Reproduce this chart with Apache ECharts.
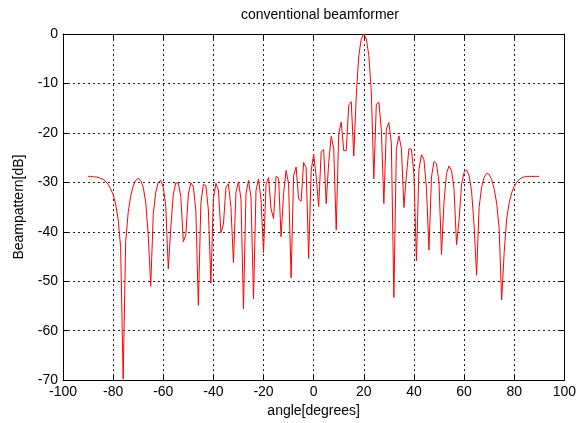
<!DOCTYPE html>
<html>
<head>
<meta charset="utf-8">
<title>conventional beamformer</title>
<script src="https://cdn.jsdelivr.net/npm/echarts@6/dist/echarts.min.js"></script>
<style>
  html, body { margin: 0; padding: 0; background: #fff; }
  #main { width: 579px; height: 423px; }
</style>
</head>
<body>
<div id="main"></div>
<script>
// angle samples in degrees
var angles = [
  -90, -89, -88, -87, -86, -85, -84, -83, -82, -81,
  -80, -79, -78, -77, -76, -75, -74, -73, -72, -71,
  -70, -69, -68, -67, -66, -65, -64, -63, -62, -61,
  -60, -59, -58, -57, -56, -55, -54, -53, -52, -51,
  -50, -49, -48, -47, -46, -45, -44, -43, -42, -41,
  -40, -39, -38, -37, -36, -35, -34, -33, -32, -31,
  -30, -29, -28, -27, -26, -25, -24, -23, -22, -21,
  -20, -19, -18, -17, -16, -15, -14, -13, -12, -11,
  -10, -9, -8, -7, -6, -5, -4, -3, -2, -1,
  0, 1, 2, 3, 4, 5, 6, 7, 8, 9,
  10, 11, 12, 13, 14, 15, 16, 17, 18, 19,
  20, 21, 22, 23, 24, 25, 26, 27, 28, 29,
  30, 31, 32, 33, 34, 35, 36, 37, 38, 39,
  40, 41, 42, 43, 44, 45, 46, 47, 48, 49,
  50, 51, 52, 53, 54, 55, 56, 57, 58, 59,
  60, 61, 62, 63, 64, 65, 66, 67, 68, 69,
  70, 71, 72, 73, 74, 75, 76, 77, 78, 79,
  80, 81, 82, 83, 84, 85, 86, 87, 88, 89,
  90
];

// beampattern in dB, one value per angle above
var beamDb = [
  -28.8, -28.8, -28.9, -28.9, -29.0, -29.2, -29.4, -29.8, -30.4, -31.3,
  -32.5, -34.4, -37.5, -43.2, -69.8, -42.0, -36.1, -32.8, -30.8, -29.6,
  -29.2, -29.6, -31.0, -34.0, -40.6, -51.0, -36.5, -32.0, -30.0, -29.6,
  -31.0, -34.8, -47.5, -39.2, -32.5, -30.1, -30.2, -32.9, -42.0, -40.7,
  -32.4, -30.1, -30.9, -35.7, -54.9, -34.2, -30.4, -30.7, -35.6, -50.4,
  -33.3, -30.2, -31.5, -40.2, -38.5, -31.0, -30.3, -35.1, -46.2, -32.0,
  -29.9, -33.4, -55.6, -32.3, -29.6, -33.0, -53.6, -31.7, -29.3, -33.5,
  -44.2, -30.4, -29.0, -35.4, -37.3, -28.8, -29.2, -41.0, -32.3, -27.6,
  -30.3, -49.3, -28.7, -26.9, -33.4, -33.8, -26.0, -27.0, -45.4, -27.7,
  -24.3, -28.8, -34.9, -23.8, -23.4, -34.3, -26.0, -20.7, -23.1, -39.6,
  -20.2, -17.8, -23.6, -23.6, -14.4, -13.7, -24.7, -12.3, -4.4, -1.0,
  0.0, -1.0, -4.3, -11.7, -29.3, -14.2, -13.8, -19.3, -34.3, -19.2,
  -17.9, -22.2, -53.3, -23.2, -20.6, -23.1, -35.1, -28.6, -23.2, -23.3,
  -28.4, -45.9, -27.4, -24.4, -25.4, -31.2, -43.7, -28.9, -25.8, -26.2,
  -30.0, -44.6, -34.0, -28.2, -26.7, -27.6, -31.3, -42.6, -37.7, -30.4,
  -28.0, -27.5, -28.6, -31.8, -38.7, -48.8, -35.1, -31.0, -29.0, -28.2,
  -28.4, -29.4, -31.3, -34.2, -39.3, -53.8, -44.2, -37.4, -34.1, -32.1,
  -30.8, -30.0, -29.4, -29.1, -28.9, -28.8, -28.8, -28.8, -28.8, -28.8,
  -28.8
];

var FONT = 'Liberation Sans, Arial, sans-serif';

var chartDom = document.getElementById('main');
var myChart = echarts.init(chartDom, null, { renderer: 'canvas' });

function buildSeries() {
  var points = angles.map(function (a, i) { return [a, beamDb[i]]; });
  return [{
    name: 'beampattern',
    type: 'line',
    data: points,
    showSymbol: false,
    clip: true,
    animation: false,
    lineStyle: { color: '#ff0000', width: 1 },
    itemStyle: { color: '#ff0000' }
  }];
}

function gridLine() {
  return { show: true, lineStyle: { color: '#222', width: 1, type: [2, 3] } };
}

function setOptions(series) {
  var tick = { show: true, inside: true, length: 5, lineStyle: { color: '#000' } };
  var line = { show: true, onZero: false, lineStyle: { color: '#000', width: 1 } };
  return {
    backgroundColor: '#fff',
    animation: false,
    title: {
      text: 'conventional beamformer',
      left: 315,
      top: 3,
      textAlign: 'center',
      textStyle: { fontFamily: FONT, fontSize: 14, fontWeight: 'normal', color: '#000' }
    },
    grid: { left: 63, right: 12, top: 34, bottom: 41, containLabel: false },
    xAxis: [
      {
        type: 'value', position: 'bottom', min: -100, max: 100, interval: 20,
        axisLine: line, axisTick: tick, splitLine: gridLine(),
        axisLabel: { margin: 5, color: '#000', fontFamily: FONT, fontSize: 14 },
        name: 'angle[degrees]', nameLocation: 'middle', nameGap: 23,
        nameTextStyle: { color: '#000', fontFamily: FONT, fontSize: 14 }
      },
      {
        type: 'value', position: 'top', min: -100, max: 100, interval: 20,
        axisLine: line, axisTick: tick, splitLine: { show: false },
        axisLabel: { show: false }
      }
    ],
    yAxis: [
      {
        type: 'value', position: 'left', min: -70, max: 0, interval: 10,
        axisLine: line, axisTick: tick, splitLine: gridLine(),
        axisLabel: { margin: 5, color: '#000', fontFamily: FONT, fontSize: 14 },
        name: 'Beampattern[dB]', nameLocation: 'middle', nameGap: 37,
        nameTextStyle: { color: '#000', fontFamily: FONT, fontSize: 14 }
      },
      {
        type: 'value', position: 'right', min: -70, max: 0, interval: 10,
        axisLine: line, axisTick: tick, splitLine: { show: false },
        axisLabel: { show: false }
      }
    ],
    series: series
  };
}

myChart.setOption(setOptions(buildSeries()));

window.addEventListener('resize', function () {
  myChart.resize();
});
</script>
</body>
</html>
